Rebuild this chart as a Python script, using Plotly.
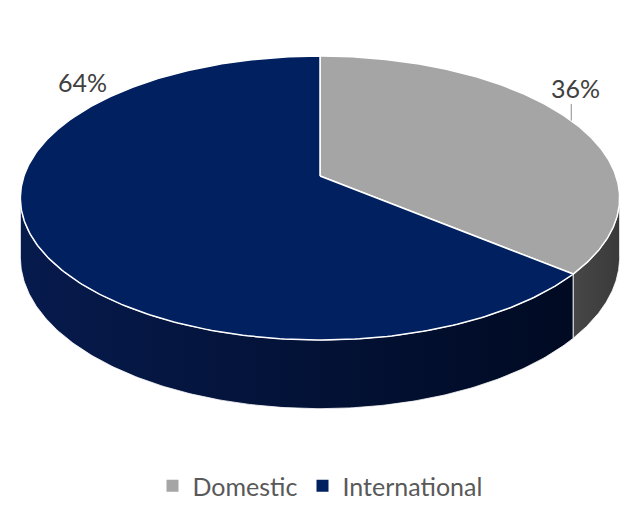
import numpy as np
import plotly.graph_objects as go

categories = ["Domestic", "International"]
values = [36, 64]
top_colors = ["#A5A5A5", "#002060"]
side_colors = [["#474747", "#3a3a3a"], ["#061a4c", "#000a22"]]
label_pos = [(575, 88), (82, 82)]

W, HGT = 640, 521
CX, CY = 320, 176
A, B, K, DEPTH = 296, 138.6, 0.155, 58


def proj(theta, r=1.0, z=0.0):
    u = r * np.sin(theta)
    v = r * np.cos(theta)
    d = 1 + K * v
    return CX + A * u / d, CY - B * v / d + DEPTH * z / d


fig = go.Figure()
total = sum(values)
bounds = np.concatenate([[0], np.cumsum(values)]) / total * 2 * np.pi
tR = np.arccos(-K)
tL = 2 * np.pi - tR

# sides
for i, cat in enumerate(categories):
    a = max(bounds[i], tR)
    b = min(bounds[i + 1], tL)
    if b <= a:
        continue
    t = np.linspace(a, b, 200)
    xt, yt = proj(t)
    xb, yb = proj(t[::-1], z=1.0)
    fig.add_trace(go.Scatter(
        x=np.concatenate([xt, xb, xt[:1]]), y=np.concatenate([yt, yb, yt[:1]]),
        mode="lines", fill="toself",
        fillgradient=dict(type="horizontal",
                          colorscale=[[0, side_colors[i][0]], [1, side_colors[i][1]]]),
        line=dict(color="rgba(255,255,255,0.8)", width=1),
        hoverinfo="skip", showlegend=False))

# top faces
for i, cat in enumerate(categories):
    t = np.linspace(bounds[i], bounds[i + 1], 300)
    xa, ya = proj(t)
    x0, y0 = proj(0.0, r=0.0)
    fig.add_trace(go.Scatter(
        x=np.concatenate([[x0], xa, [x0]]), y=np.concatenate([[y0], ya, [y0]]),
        mode="lines", fill="toself", fillcolor=top_colors[i],
        line=dict(color="white", width=1.5),
        hoverinfo="skip", showlegend=False))

# legend entries
for i, cat in enumerate(categories):
    fig.add_trace(go.Scatter(
        x=[None], y=[None], mode="markers", name=cat,
        marker=dict(symbol="square", size=12, color=top_colors[i])))

# labels
for i, cat in enumerate(categories):
    lx, ly = label_pos[i]
    fig.add_annotation(x=lx, y=ly, text=f"{values[i]}%", showarrow=False,
                       font=dict(family="Lato", size=25, color="#404040"),
                       xref="x", yref="y")

# leader line for Domestic label
mid = (bounds[0] + bounds[1]) / 2
mx, my = proj(mid)
fig.add_shape(type="line", x0=mx, x1=mx, y0=my, y1=label_pos[0][1] + 16,
              line=dict(color="#8c8c8c", width=1), xref="x", yref="y")

fig.update_layout(
    width=W, height=HGT,
    margin=dict(l=0, r=0, t=0, b=0),
    paper_bgcolor="white", plot_bgcolor="white",
    xaxis=dict(range=[0, W], visible=False, fixedrange=True),
    yaxis=dict(range=[HGT, 0], visible=False, fixedrange=True),
    showlegend=True,
    legend=dict(orientation="h", x=0.5, xanchor="center",
                y=1 - 486 / HGT, yanchor="middle",
                font=dict(family="Lato", size=25, color="#595959"),
                itemsizing="trace", bgcolor="rgba(0,0,0,0)"),
)

fig.write_html("out.html", config={"displayModeBar": False},
               post_script="document.body.style.margin='0';")
